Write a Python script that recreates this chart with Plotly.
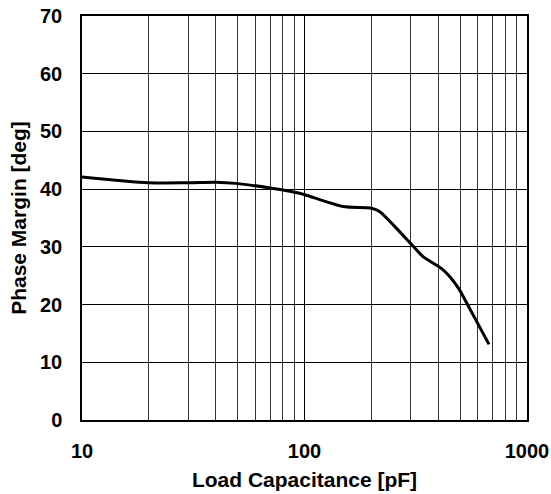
import plotly.graph_objects as go

load_pf = [10, 20, 30, 40, 49, 70, 95, 103, 149, 200, 218, 259, 308, 341, 420, 491, 535, 675]
phase_margin = [42.1, 41.1, 41.1, 41.2, 41.0, 40.2, 39.3, 38.9, 37.0, 36.7, 36.1, 33.2, 30.1, 28.3, 26.0, 22.9, 20.3, 13.1]

x_major = [10, 100, 1000]
x_minor = [20, 30, 40, 50, 60, 70, 80, 90, 200, 300, 400, 500, 600, 700, 800, 900]
y_ticks = [0, 10, 20, 30, 40, 50, 60, 70]

font_family = "Liberation Sans, Arial, sans-serif"
tick_font = dict(size=20, family=font_family, color="black", weight="bold")
title_font = dict(size=21, family=font_family, color="black", weight="bold")

fig = go.Figure()
fig.add_trace(go.Scatter(
    x=load_pf, y=phase_margin, mode="lines",
    line=dict(color="black", width=3, shape="spline", smoothing=0.8),
    showlegend=False, hoverinfo="skip"))

fig.update_layout(
    width=551, height=494,
    margin=dict(l=82, r=24, t=16, b=74),
    paper_bgcolor="white", plot_bgcolor="white",
    font=dict(family=font_family, color="black", size=15),
)
fig.update_xaxes(
    type="log", range=[1, 3], automargin=False,
    tickmode="array", tickvals=x_major, ticktext=[str(v) for v in x_major],
    tickfont=tick_font,
    ticks="", ticklabelstandoff=12,
    showgrid=True, gridcolor="black", gridwidth=1,
    minor=dict(tickmode="array", tickvals=x_minor, showgrid=True, gridcolor="#333", gridwidth=1, ticks=""),
    showline=True, linecolor="black", linewidth=1.5, mirror=True,
    zeroline=False,
    title=dict(text="Load Capacitance [pF]", font=title_font, standoff=12),
)
fig.update_yaxes(
    range=[0, 70], automargin=False,
    tickmode="array", tickvals=y_ticks,
    tickfont=tick_font,
    ticks="", ticklabelstandoff=14,
    showgrid=True, gridcolor="black", gridwidth=1,
    showline=True, linecolor="black", linewidth=1.5, mirror=True,
    zeroline=False,
    title=dict(text="Phase Margin [deg]", font=title_font, standoff=8),
)

# remove the browser's default 8px body margin so the figure fills the window
fig.write_html(
    "out.html",
    config={"displayModeBar": False},
    post_script="document.body.style.margin='0';document.body.style.overflow='hidden';",
)
